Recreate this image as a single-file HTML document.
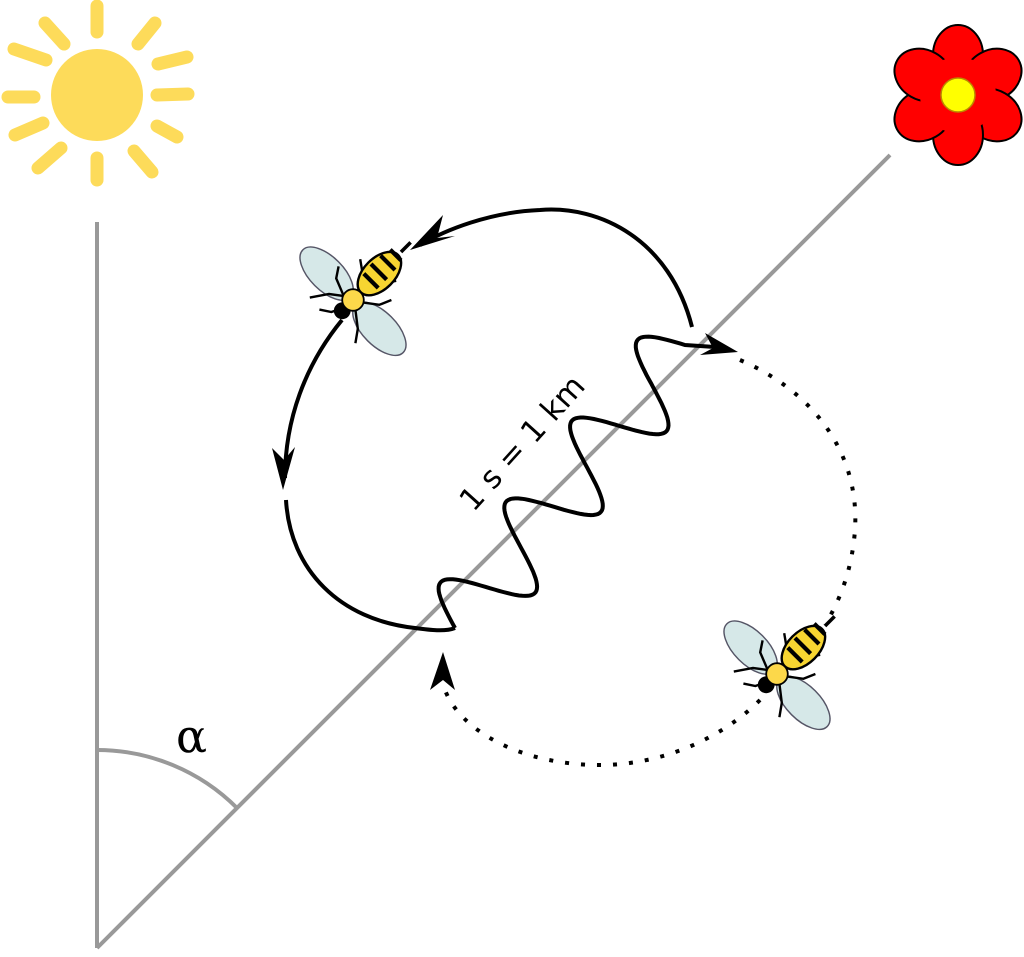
<!DOCTYPE html>
<html><head><meta charset="utf-8"><style>html,body{margin:0;padding:0;background:#fff}svg{display:block}</style></head><body>
<svg width="1024" height="957" viewBox="0 0 1024 957" xmlns="http://www.w3.org/2000/svg">
<defs>
<g id="bee">
  <ellipse cx="-22" cy="-22" rx="28" ry="14" transform="rotate(45 -22 -22)" fill="#d6e8e8" stroke="#556" stroke-width="1.2"/>
  <ellipse cx="22" cy="24" rx="28" ry="14" transform="rotate(45 22 24)" fill="#d6e8e8" stroke="#556" stroke-width="1.2"/>
  <g stroke="#000" stroke-width="2" fill="none">
    <path d="M-5,-3 L-20,-5 L-36,-2"/><path d="M-4,5 L-18,10 L-28,8"/><path d="M4,-6 L8,-22 L6,-34"/>
    <path d="M8,2 L22,4 L32,0"/><path d="M10,-5 L26,-14 L36,-16"/><path d="M2,8 L4,24 L2,36"/>
    <path d="M-8,-4 L-14,-18 L-12,-28"/>
  </g>
  <line x1="40" y1="-40" x2="48" y2="-48" stroke="#000" stroke-width="3"/>
  <ellipse cx="22" cy="-22" rx="22" ry="13" transform="rotate(-45 22 -22)" fill="#f7d531" stroke="#000" stroke-width="2"/>
  <g stroke="#000" stroke-width="3.5">
    <line x1="9" y1="-22" x2="21" y2="-10"/><line x1="15" y1="-30" x2="28" y2="-17"/><line x1="23" y1="-37" x2="35" y2="-25"/><line x1="31" y1="-42" x2="40" y2="-33"/>
  </g>
  <circle cx="-9" cy="9" r="7" fill="#000"/>
  <circle cx="0" cy="0" r="9" fill="#fcd84a" stroke="#000" stroke-width="1.5"/>
</g>
</defs>
<g fill="#fddb5a"><circle cx="97" cy="95" r="46"/></g>
<g stroke="#fddb5a" stroke-width="13" stroke-linecap="round">
  <line x1="97" y1="6" x2="97" y2="32"/><line x1="97" y1="158" x2="97" y2="180"/>
  <line x1="157" y1="95" x2="188" y2="94"/><line x1="8" y1="97" x2="34" y2="97"/>
  <line x1="45" y1="23" x2="64" y2="44"/><line x1="138" y1="44" x2="155" y2="23"/>
  <line x1="14" y1="49" x2="46" y2="60"/><line x1="158" y1="64" x2="187" y2="57"/>
  <line x1="15" y1="135" x2="43" y2="123"/><line x1="157" y1="126" x2="177" y2="137"/>
  <line x1="38" y1="168" x2="61" y2="148"/><line x1="134" y1="151" x2="152" y2="172"/>
</g>
<g fill="#f00" stroke="#000" stroke-width="2">
  <g transform="translate(958,95)">
    <ellipse cx="0" cy="-40" rx="25" ry="30"/>
    <ellipse cx="0" cy="-40" rx="25" ry="30" transform="rotate(60)"/>
    <ellipse cx="0" cy="-40" rx="25" ry="30" transform="rotate(120)"/>
    <ellipse cx="0" cy="-40" rx="25" ry="30" transform="rotate(180)"/>
    <ellipse cx="0" cy="-40" rx="25" ry="30" transform="rotate(240)"/>
    <ellipse cx="0" cy="-40" rx="25" ry="30" transform="rotate(300)"/>
    <circle r="38" stroke="none"/>
    <circle r="17" fill="#ff0" stroke="#b80" stroke-width="1.5"/>
  </g>
</g>
<g stroke="#999" stroke-width="4" fill="none">
  <line x1="97" y1="222" x2="97" y2="948"/>
  <line x1="97" y1="948" x2="890" y2="155"/>
  <path d="M97,750 A198,198 0 0 1 237,808"/>
</g>
<text x="176" y="752" font-family="DejaVu Serif, serif" font-size="46" fill="#000">α</text>
<g stroke="#000" stroke-width="4" fill="none">
  <path d="M692,327 C670,240 600,205 540,210 C490,212 445,230 420,245"/>
  <path d="M342,320 C305,365 285,420 285,478"/>
  <path d="M286,500 C290,570 340,620 415,628 C430,630 445,632 455,628"/>
  <path id="wave" d=""/>
</g>
<g fill="#000">
  <path d="M410,250 L443,215 L437,238 L455,236 Z"/>
  <path d="M283,490 L272,448 L284,460 L295,447 Z"/>
  <path d="M738,352 L705,333 L713,348 L700,355 Z"/>
  <path d="M443,652 L430,690 L443,680 L455,690 Z"/>
</g>
<g stroke="#000" stroke-width="4" fill="none" stroke-dasharray="4 12">
  <path d="M740,360 C810,390 860,450 855,530 C852,570 840,600 825,625"/>
  <path d="M760,700 C720,740 660,765 600,765 C520,765 460,730 445,690"/>
</g>
<text transform="translate(530,450) rotate(-48)" text-anchor="middle" font-family="DejaVu Sans, sans-serif" font-size="31" fill="#000">1 s = 1 km</text>
<use href="#bee" transform="translate(353,300) scale(1.2)"/>
<use href="#bee" transform="translate(777,674) scale(1.2)"/>
<script>
(function(){
 var ax=455,ay=628,bx=685,by=345;
 var dx=bx-ax,dy=by-ay,L=Math.hypot(dx,dy),ux=dx/L,uy=dy/L,px=-uy,py=ux;
 var d="M"+ax+","+ay;
 for(var i=1;i<=200;i++){var t=i/200;var s=-Math.sin(t*Math.PI*2*3.5)*40;
  d+=" L"+(ax+dx*t+px*s).toFixed(1)+","+(ay+dy*t+py*s).toFixed(1);}
 d+=" L715,347";
 document.getElementById('wave').setAttribute('d',d);
})();
</script>
</svg>
</body></html>
